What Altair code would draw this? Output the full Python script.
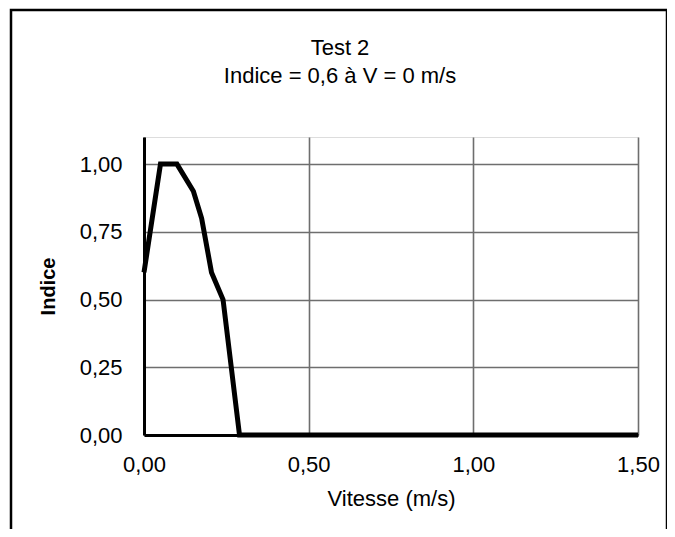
import altair as alt
import pandas as pd

vitesse = [0.0, 0.05, 0.10, 0.15, 0.175, 0.205, 0.24, 0.29, 0.50, 1.00, 1.50]
indice = [0.60, 1.00, 1.00, 0.90, 0.80, 0.60, 0.50, 0.00, 0.00, 0.00, 0.00]
x_ticks = [0.0, 0.5, 1.0, 1.5]
y_ticks = [0.0, 0.25, 0.5, 0.75, 1.0]
title_lines = ["Test 2", "Indice = 0,6 à V = 0 m/s"]

df = pd.DataFrame({"Vitesse": vitesse, "Indice": indice})
one = pd.DataFrame({"k": [0]})

W, H = 494, 298
FONT = "Liberation Sans"
lab = "replace(format(datum.value, '.2f'), '.', ',')"

line = alt.Chart(df).mark_line(color="black", strokeWidth=5, strokeJoin="miter").encode(
    x=alt.X("Vitesse:Q",
            scale=alt.Scale(domain=[0, 1.5], nice=False),
            axis=alt.Axis(values=x_ticks, labelExpr=lab, title="Vitesse (m/s)",
                          grid=True, gridColor="#6e6e6e", gridWidth=1.6,
                          domainColor="black", domainWidth=3, ticks=False,
                          labelPadding=19, labelFontSize=22, labelFont=FONT,
                          labelColor="black", labelFlush=False,
                          titleFont=FONT, titleFontSize=22, titleFontWeight="normal",
                          titleColor="black", titlePadding=13)),
    y=alt.Y("Indice:Q",
            scale=alt.Scale(domain=[0, 1.1], nice=False),
            axis=alt.Axis(values=y_ticks, labelExpr=lab, title="Indice",
                          grid=True, gridColor="#6e6e6e", gridWidth=1.6,
                          domainColor="black", domainWidth=3, ticks=False,
                          labelPadding=22, labelFontSize=22, labelFont=FONT,
                          labelColor="black", labelFlush=False,
                          titleFont=FONT, titleFontSize=20, titleFontWeight="bold",
                          titleColor="black", titlePadding=21)),
)

border = alt.Chart(one).mark_rect(fill=None, stroke="black", strokeWidth=2.5).encode(
    x=alt.value(-133), x2=alt.value(523), y=alt.value(-127), y2=alt.value(420)
)

t1 = alt.Chart(one).mark_text(font=FONT, fontSize=22, color="black", align="center",
                              baseline="alphabetic").encode(
    x=alt.value(196), y=alt.value(-82), text=alt.value(title_lines[0]))
t2 = alt.Chart(one).mark_text(font=FONT, fontSize=22, color="black", align="center",
                              baseline="alphabetic").encode(
    x=alt.value(196), y=alt.value(-54), text=alt.value(title_lines[1]))

chart = alt.layer(line, border, t1, t2).properties(
    width=W, height=H,
    autosize=alt.AutoSizeParams(type="none"),
    padding={"left": 136, "top": 129, "right": 29, "bottom": 94},
).configure_view(stroke=None).configure(background="white")

chart.save("out.html", embed_options={"renderer": "svg", "actions": False})
